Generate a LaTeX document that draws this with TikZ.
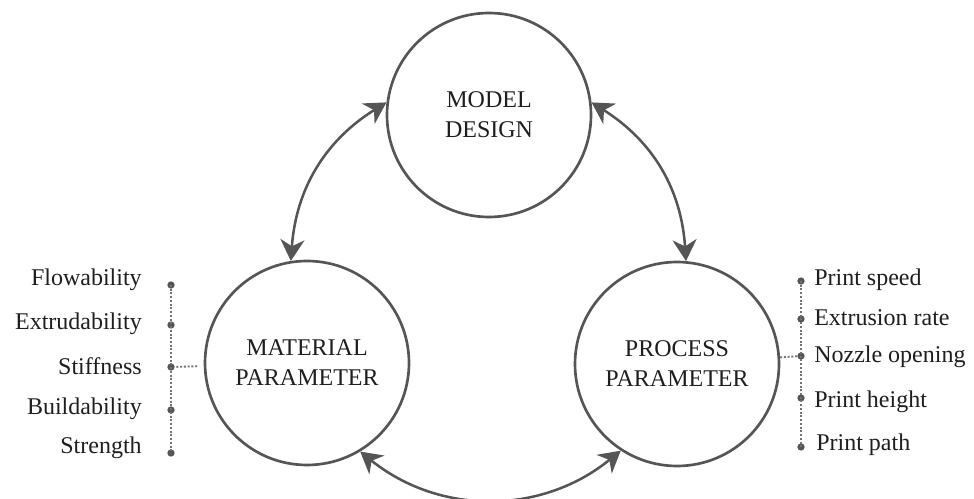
\documentclass[tikz,border=0pt]{standalone}
\usepackage{fontspec}
\setmainfont{Liberation Serif}
\usetikzlibrary{arrows.meta}
\definecolor{strokegray}{HTML}{555555}
\definecolor{dotgray}{HTML}{737373}
\definecolor{textdark}{HTML}{1E1E1E}
\tikzset{
  bigcircle/.style={circle, draw=strokegray, line width=2pt, minimum size=153pt, inner sep=0pt,
    align=center, text=textdark, font=\fontsize{18}{22.5}\selectfont},
  link/.style={draw=strokegray, line width=1.9pt,
    {Stealth[length=16pt, width=18pt, inset=5pt]}-{Stealth[length=16pt, width=18pt, inset=5pt]}},
  dotn/.style={circle, fill=strokegray, minimum size=5.5pt, inner sep=0pt},
  dotline/.style={draw=dotgray, line width=1.4pt, dash pattern=on 1.5pt off 1.3pt},
  lbl/.style={text=textdark, font=\fontsize{18}{22}\selectfont, inner sep=0pt}
}
\begin{document}
\begin{tikzpicture}[x=0.75pt, y=-0.75pt]
\useasboundingbox (0,0) rectangle (974,499);

\node[bigcircle] (model) at (489,115) {MODEL\\DESIGN};
\node[bigcircle] (mat) at (307,363) {MATERIAL\\PARAMETER};
\node[bigcircle] (proc) at (677,364) {PROCESS\\PARAMETER};

\draw[link] (mat.99) to[bend left=27] (model.173);
\draw[link] (model.7) to[bend left=27] (proc.85);
\draw[link] (proc.-123) to[bend left=39] (mat.-59);

% left list
\node[dotn] (l1) at (171,285) {};
\node[dotn] (l2) at (171,325) {};
\node[dotn] (l3) at (171,367) {};
\node[dotn] (l4) at (171,410) {};
\node[dotn] (l5) at (171,453) {};
\draw[dotline] (l1.center) -- (l5.center);
\draw[dotline, shorten <=5pt] (mat) -- (l3);
\node[lbl, anchor=east] (t1) at (142,280) {Flowability};
\node[lbl, anchor=east] (t2) at (142,324) {Extrudability};
\node[lbl, anchor=east] (t3) at (142,366) {Stiffness};
\node[lbl, anchor=east] (t4) at (142,409) {Buildability};
\node[lbl, anchor=east] (t5) at (142,448) {Strength};

% right list
\node[dotn] (r1) at (801,281) {};
\node[dotn] (r2) at (801,319) {};
\node[dotn] (r3) at (801,356) {};
\node[dotn] (r4) at (801,398) {};
\node[dotn] (r5) at (801,447) {};
\draw[dotline] (r1.center) -- (r5.center);
\draw[dotline] (proc) -- (r3);
\node[lbl, anchor=west] (s1) at (814,280) {Print speed};
\node[lbl, anchor=west] (s2) at (814,318) {Extrusion rate};
\node[lbl, anchor=west] (s3) at (814,357) {Nozzle opening};
\node[lbl, anchor=west] (s4) at (814,402) {Print height};
\node[lbl, anchor=west] (s5) at (816,445) {Print path};
\end{tikzpicture}
\end{document}
